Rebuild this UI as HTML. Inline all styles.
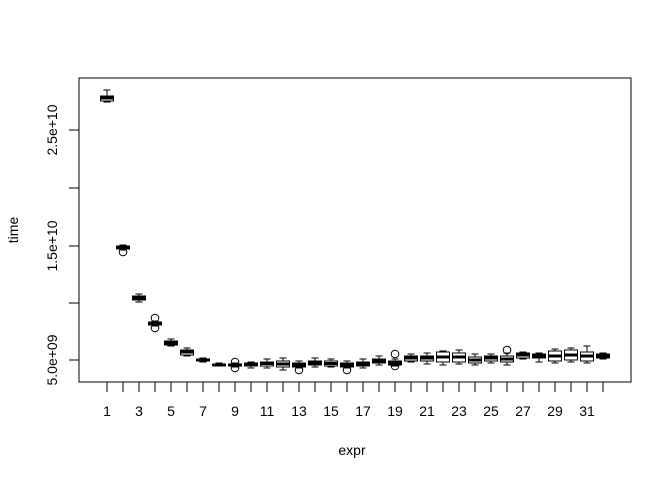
<!DOCTYPE html>
<html><head><meta charset="utf-8"><style>html,body{margin:0;padding:0;background:#fff}svg{display:block}</style></head>
<body>
<svg id="s" width="672" height="480" viewBox="0 0 672 480" xmlns="http://www.w3.org/2000/svg" font-family="Liberation Sans, sans-serif" font-size="14">
<rect x="79" y="78" width="552" height="304" fill="none" stroke="#000" stroke-width="1"/>
<g stroke="#000" fill="none">
<line x1="79" y1="360" x2="69" y2="360"/><line x1="79" y1="303" x2="69" y2="303"/><line x1="79" y1="246" x2="69" y2="246"/><line x1="79" y1="188" x2="69" y2="188"/><line x1="79" y1="130" x2="69" y2="130"/>
</g>
<g text-anchor="middle">
<text transform="translate(57,360) rotate(-90)">5.0e+09</text>
<text transform="translate(57,246) rotate(-90)">1.5e+10</text>
<text transform="translate(57,130) rotate(-90)">2.5e+10</text>
<text transform="translate(18,230) rotate(-90)">time</text>
<text x="352" y="455">expr</text>
<text x="107" y="416">1</text><text x="139" y="416">3</text><text x="171" y="416">5</text><text x="203" y="416">7</text><text x="235" y="416">9</text><text x="267" y="416">11</text><text x="299" y="416">13</text><text x="331" y="416">15</text><text x="363" y="416">17</text><text x="395" y="416">19</text><text x="427" y="416">21</text><text x="459" y="416">23</text><text x="491" y="416">25</text><text x="523" y="416">27</text><text x="555" y="416">29</text><text x="587" y="416">31</text>
</g>
<g id="b" stroke="#000" fill="none"></g>
</svg>
<script>
var d=[
[90,96,98,101,102,[]],[245,246,247,249,250,[252]],[294,296,298,300,302,[]],[321,322,323,325,326,[318,328]],
[339,341,343,345,346,[]],[348,350,352,355,356,[]],[358,359,360,361,362,[]],[363,364,365,365.5,366,[]],
[363,364,365,366,367,[362,368]],[362,363,364.5,366,368,[]],[359,362,363.5,366,368,[]],[358,361,364,367,370,[]],
[361,363,365,367,368,[370]],[358,361,363,365,367,[]],[359,361,363.5,366,367,[]],[361,363,365,367,368,[370]],
[359,362,364,366,368,[]],[356,359,361,363,365,[]],[359,361,363,365,366,[354,366]],[354,356,358,361,362,[]],
[353,356,358,361,364,[]],[351,352,357,362,365,[]],[350,353,357,362,364,[]],[354,357,360,363,365,[]],
[354,356,358,361,363,[]],[353,356,359,362,365,[350]],[352,353,355,358,359,[]],[353,354,356,358,362,[]],
[349,351,356,361,363,[]],[348,350,355,360,362,[]],[346,352,356,361,363,[]],[353,354,356,358,359,[]]];
var g=document.getElementById('b'),h='';
for(var i=0;i<32;i++){var x=107+i*16,a=d[i];
h+='<line x1="'+x+'" y1="382" x2="'+x+'" y2="392"/>';
h+='<line x1="'+x+'" y1="'+a[0]+'" x2="'+x+'" y2="'+a[4]+'"/>';
h+='<line x1="'+(x-3.5)+'" y1="'+a[0]+'" x2="'+(x+3.5)+'" y2="'+a[0]+'"/>';
h+='<line x1="'+(x-3.5)+'" y1="'+a[4]+'" x2="'+(x+3.5)+'" y2="'+a[4]+'"/>';
h+='<rect x="'+(x-6.5)+'" y="'+a[1]+'" width="13" height="'+(a[3]-a[1])+'" fill="#fff"/>';
h+='<line x1="'+(x-6.5)+'" y1="'+a[2]+'" x2="'+(x+6.5)+'" y2="'+a[2]+'" stroke-width="3"/>';
a[5].forEach(function(o){h+='<circle cx="'+x+'" cy="'+o+'" r="3.8"/>';});}
g.innerHTML=h;
</script>
</body></html>
